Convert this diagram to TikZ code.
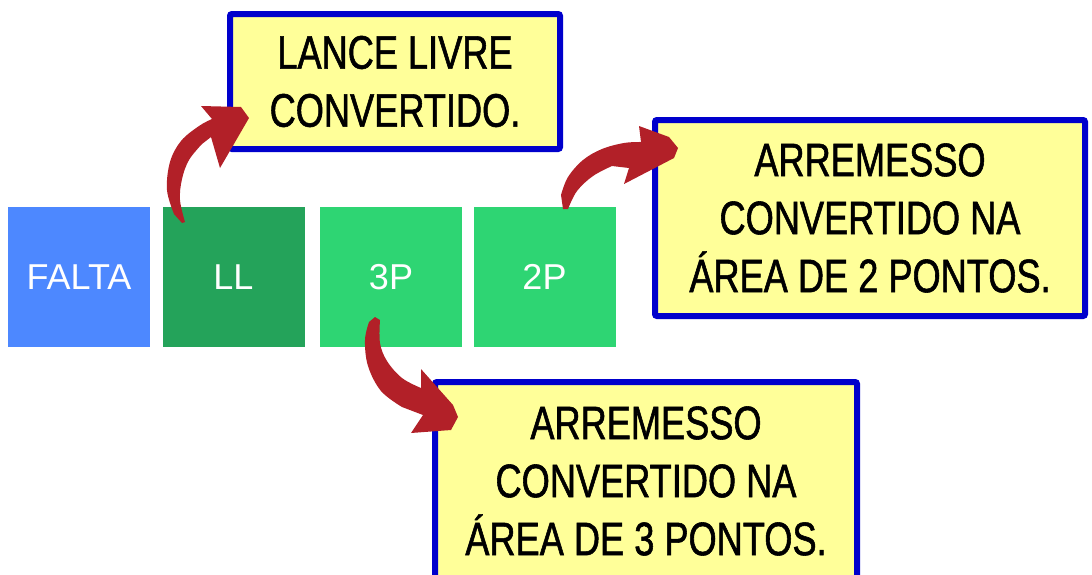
\documentclass[tikz,border=0pt]{standalone}
\usepackage{fontspec}
\setmainfont{Liberation Sans}
\newfontfamily\boxfont[FakeStretch=0.77,FakeBold=1.2]{Liberation Sans}
\definecolor{arrowred}{HTML}{B22028}
\definecolor{calloutblue}{HTML}{0000CC}
\definecolor{calloutyellow}{HTML}{FFFF99}
\definecolor{faltablue}{HTML}{4D88FF}
\definecolor{llgreen}{HTML}{24A35A}
\definecolor{ptgreen}{HTML}{2ED573}
\begin{document}
\begin{tikzpicture}[x=1pt,y=-1pt,
  sq/.style={inner sep=0pt, minimum width=142pt, minimum height=140pt, text=white, font=\fontsize{36}{40}\selectfont},
  callout/.style={draw=calloutblue, line width=6pt, fill=calloutyellow, rounded corners=2pt, inner sep=0pt, align=center, font=\boxfont\fontsize{47}{58}\selectfont},
  redarrow/.style={fill=arrowred}]
\useasboundingbox (0,0) rectangle (1092,574);
\clip (0,0) rectangle (1092,574);
% squares
\node[sq, fill=faltablue] (falta) at (79,277) {FALTA};
\node[sq, fill=llgreen] (ll) at (233.5,277) {LL};
\node[sq, fill=ptgreen] (p3) at (391,277) {3P};
\node[sq, fill=ptgreen] (p2) at (544.5,277) {2P};
% callouts
\node[callout, minimum width=330pt, minimum height=135pt] (b1) at (395,81.5) {LANCE LIVRE\\CONVERTIDO.};
\node[callout, minimum width=430pt, minimum height=196pt] (b2) at (870,218) {ARREMESSO\\CONVERTIDO NA\\ÁREA DE 2 PONTOS.};
\node[callout, minimum width=422pt, minimum height=198pt] (b3) at (646,481) {ARREMESSO\\CONVERTIDO NA\\ÁREA DE 3 PONTOS.};
% arrows
\fill[redarrow] (182,223) -- plot[smooth, tension=0.6] coordinates {(174,214) (167,190) (170,162) (181,141) (199,126) (212,119)}
  -- (201,106) -- (241,107) -- (249,118) -- (220,168) -- (211,137)
  -- plot[smooth, tension=0.6] coordinates {(202,144) (189,160) (182,179) (180,200) (185,222)} -- cycle;
\fill[redarrow] (563,209) -- plot[smooth, tension=0.6] coordinates {(561,195) (568,177) (583,160) (602,149) (624,143) (641,142)}
  -- (639,126) -- (669,137) -- (678,148) -- (674,158) -- (624,184) -- (629,168)
  -- plot[smooth, tension=0.6] coordinates {(612,166) (593,176) (577,191) (568,209)} -- cycle;
\fill[redarrow] (375,317) -- plot[smooth, tension=0.6] coordinates {(380,320) (380,343) (387,361) (402,378) (421,388)}
  -- (421,369) -- (453,405) -- (458,417) -- (451,430) -- (411,433) -- (423,415)
  -- plot[smooth, tension=0.6] coordinates {(402,407) (381,391) (368,366) (365,340) (369,322)} -- cycle;
\end{tikzpicture}
\end{document}
